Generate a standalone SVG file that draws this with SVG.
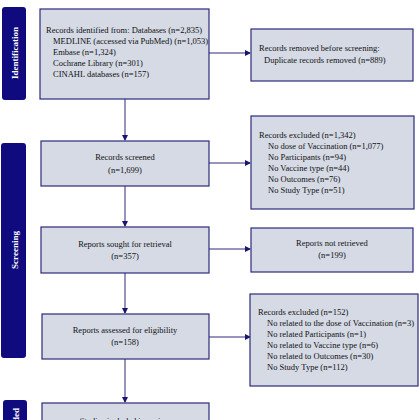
<svg xmlns="http://www.w3.org/2000/svg" width="420" height="420" viewBox="0 0 420 420">
<style>
.band{fill:#0f0a7e}
.bl{fill:#ffffff;font-family:"Liberation Serif",serif;font-weight:bold;font-size:9px;text-anchor:middle}
.box{fill:#d5dae5;stroke:#2e2a7a;stroke-width:1.2}
.t{font-family:"Liberation Serif",serif;font-size:8.5px;fill:#111}
.c{text-anchor:middle}
.con line{stroke:#2e2a7a;stroke-width:1}
</style>
<defs>
<marker id="ah" markerWidth="6" markerHeight="6" refX="5" refY="3" orient="auto" markerUnits="userSpaceOnUse">
<path d="M0,0 L6,3 L0,6 z" fill="#1a1570"/>
</marker>
</defs>
<rect width="420" height="420" fill="#ffffff"/>
<g id="band-identification"><rect class="band" x="2" y="7" width="24" height="93" rx="3"/><text class="bl" transform="translate(17.5,53) rotate(-90)">Identification</text></g>
<g id="band-screening"><rect class="band" x="1" y="143" width="25" height="215" rx="3"/><text class="bl" transform="translate(17.5,250) rotate(-90)">Screening</text></g>
<g id="band-included"><rect class="band" x="3" y="400" width="24" height="60" rx="3"/><text class="bl" transform="translate(18.5,425) rotate(-90)">Included</text></g>
<g class="con" id="connectors">
<line x1="125" y1="99" x2="125" y2="140" marker-end="url(#ah)"/>
<line x1="125" y1="186" x2="125" y2="226" marker-end="url(#ah)"/>
<line x1="125" y1="273" x2="125" y2="313" marker-end="url(#ah)"/>
<line x1="125" y1="359" x2="125" y2="402" marker-end="url(#ah)"/>
<line x1="209" y1="53" x2="250" y2="53" marker-end="url(#ah)"/>
<line x1="209" y1="163" x2="250" y2="163" marker-end="url(#ah)"/>
<line x1="209" y1="249" x2="250" y2="249" marker-end="url(#ah)"/>
<line x1="209" y1="337" x2="250" y2="337" marker-end="url(#ah)"/>
</g>
<g id="identified"><rect class="box" x="40" y="9" width="169" height="90"/>
<text class="t" x="46" y="33">Records identified from: Databases (n=2,835)</text>
<text class="t" x="53" y="44">MEDLINE (accessed via PubMed) (n=1,053)</text>
<text class="t" x="53" y="55">Embase (n=1,324)</text>
<text class="t" x="53" y="66">Cochrane Library (n=301)</text>
<text class="t" x="53" y="77">CINAHL databases (n=157)</text></g>
<g id="removed"><rect class="box" x="251" y="29" width="162" height="52"/>
<text class="t" x="259" y="51">Records removed before screening:</text>
<text class="t" x="264" y="63">Duplicate records removed (n=889)</text></g>
<g id="screened"><rect class="box" x="41" y="141" width="168" height="45"/>
<text class="t c" x="125" y="160">Records screened</text>
<text class="t c" x="125" y="173">(n=1,699)</text></g>
<g id="excluded1"><rect class="box" x="251" y="116" width="163" height="93"/>
<text class="t" x="259" y="138">Records excluded (n=1,342)</text>
<text class="t" x="268" y="149">No dose of Vaccination (n=1,077)</text>
<text class="t" x="268" y="160">No Participants (n=94)</text>
<text class="t" x="268" y="171">No Vaccine type (n=44)</text>
<text class="t" x="268" y="182">No Outcomes (n=76)</text>
<text class="t" x="268" y="193">No Study Type (n=51)</text></g>
<g id="sought"><rect class="box" x="41" y="227" width="168" height="46"/>
<text class="t c" x="125" y="247">Reports sought for retrieval</text>
<text class="t c" x="125" y="259">(n=357)</text></g>
<g id="notretrieved"><rect class="box" x="251" y="228" width="162" height="44"/>
<text class="t c" x="332" y="246">Reports not retrieved</text>
<text class="t c" x="332" y="258">(n=199)</text></g>
<g id="assessed"><rect class="box" x="42" y="314" width="167" height="45"/>
<text class="t c" x="125" y="333">Reports assessed for eligibility</text>
<text class="t c" x="125" y="345">(n=158)</text></g>
<g id="excluded2"><rect class="box" x="250" y="294" width="168" height="92"/>
<text class="t" x="258" y="315">Records excluded (n=152)</text>
<text class="t" x="267" y="326">No related to the dose of Vaccination (n=3)</text>
<text class="t" x="267" y="337">No related Participants (n=1)</text>
<text class="t" x="267" y="348">No related to Vaccine type (n=6)</text>
<text class="t" x="267" y="359">No related to Outcomes (n=30)</text>
<text class="t" x="267" y="370">No Study Type (n=112)</text></g>
<g id="included"><rect class="box" x="42" y="403" width="167" height="40"/>
<text class="t c" x="125" y="424">Studies included in review</text></g>
</svg>
